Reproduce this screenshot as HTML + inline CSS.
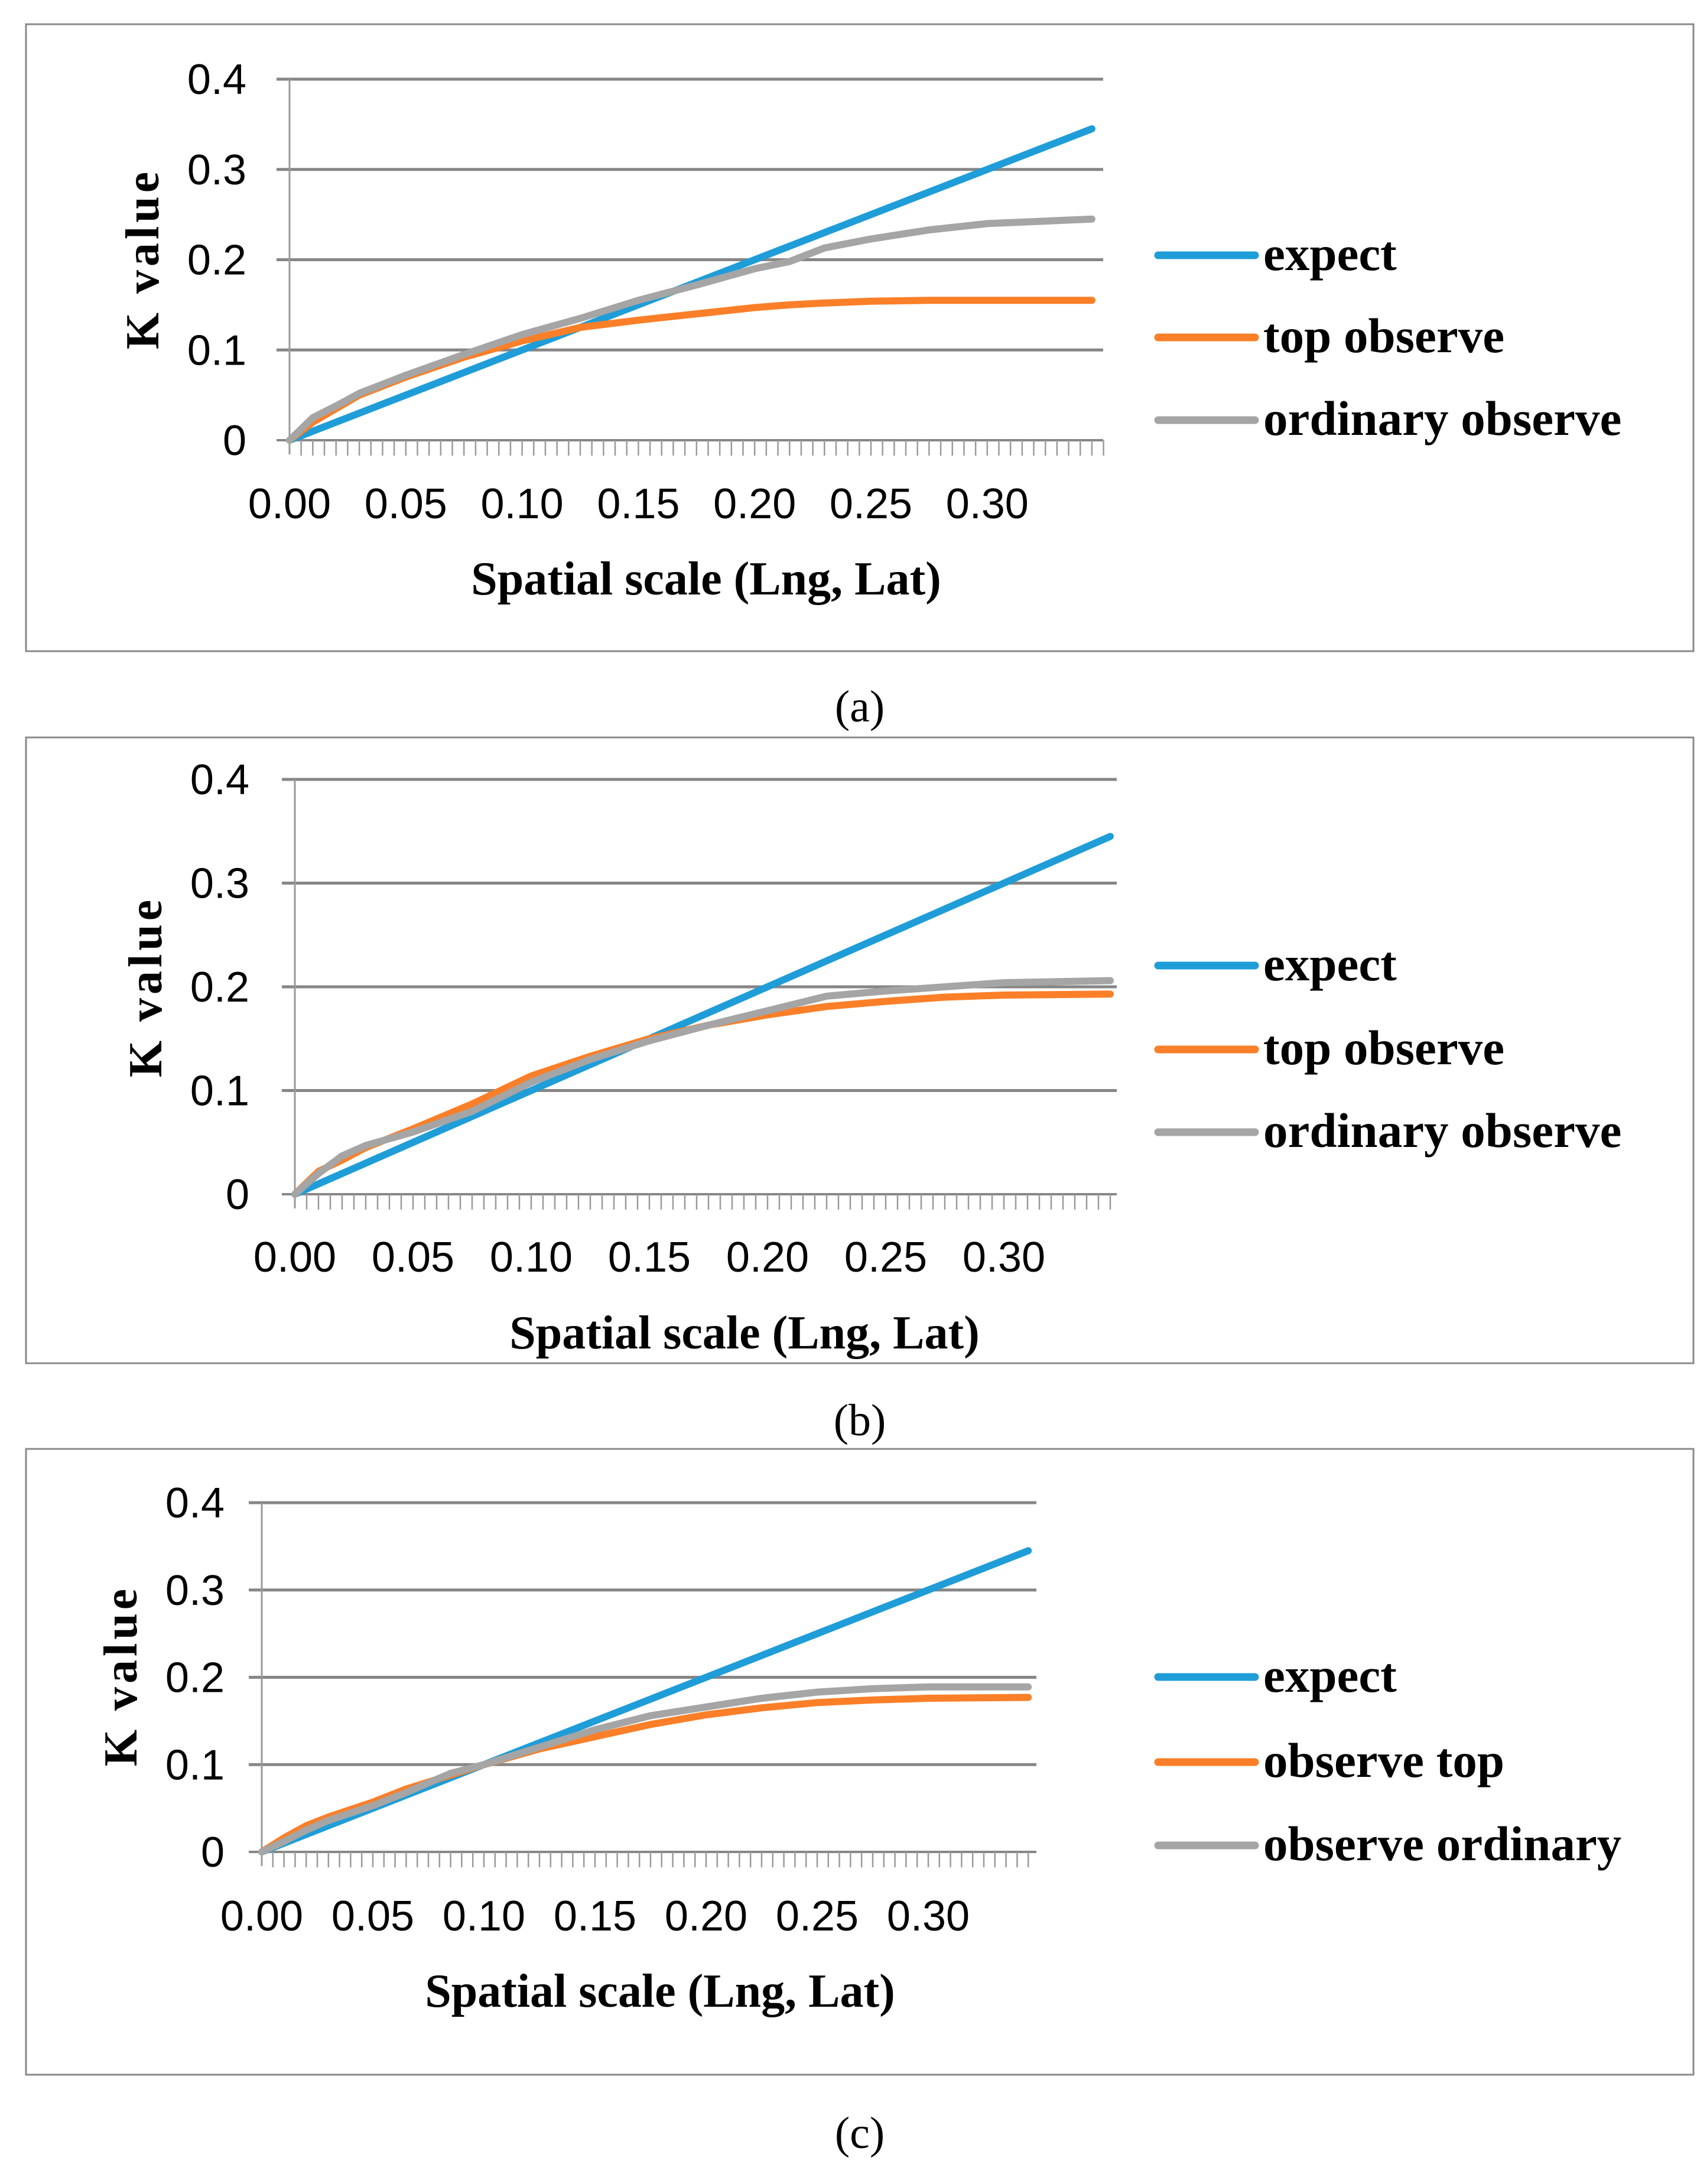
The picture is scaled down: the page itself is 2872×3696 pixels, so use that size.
<!DOCTYPE html>
<html><head><meta charset="utf-8"><style>
html,body{margin:0;padding:0;background:#fff;}
svg{display:block;}
text{font-family:"Liberation Sans",sans-serif;}
.serif{font-family:"Liberation Serif",serif;}
</style></head>
<body>
<svg id="fig" width="2872" height="3696" viewBox="0 0 2872 3696" xmlns="http://www.w3.org/2000/svg"></svg>
<script>
// ---- data ----
const yTicks = [0, 0.1, 0.2, 0.3, 0.4];
const yTickLabels = ["0", "0.1", "0.2", "0.3", "0.4"];
const xTicks = [0, 0.05, 0.10, 0.15, 0.20, 0.25, 0.30];
const xTickLabels = ["0.00", "0.05", "0.10", "0.15", "0.20", "0.25", "0.30"];
const expectX = [0, 0.345];
const expectY = [0, 0.345];
const xsA = [0,0.01,0.02,0.03,0.05,0.075,0.1,0.125,0.15,0.175,0.2,0.215,0.23,0.25,0.275,0.3,0.345];
const topA = [0,0.02,0.035,0.05,0.07,0.092,0.11,0.125,0.133,0.14,0.147,0.15,0.152,0.154,0.155,0.155,0.155];
const ordA = [0,0.025,0.038,0.052,0.072,0.095,0.117,0.135,0.155,0.172,0.19,0.198,0.213,0.223,0.233,0.24,0.245];
const xsB = [0,0.01,0.02,0.03,0.05,0.075,0.1,0.125,0.15,0.175,0.2,0.225,0.25,0.275,0.3,0.345];
const topB = [0,0.022,0.033,0.045,0.063,0.087,0.114,0.133,0.15,0.163,0.173,0.181,0.186,0.19,0.192,0.193];
const ordB = [0,0.02,0.037,0.047,0.06,0.08,0.108,0.13,0.148,0.163,0.177,0.191,0.196,0.2,0.204,0.206];
const xsC = [0,0.01,0.02,0.03,0.05,0.065,0.085,0.1,0.125,0.15,0.175,0.2,0.225,0.25,0.275,0.3,0.345];
const topC = [0,0.016,0.03,0.04,0.057,0.072,0.088,0.1,0.118,0.132,0.146,0.157,0.165,0.171,0.174,0.176,0.177];
const ordC = [0,0.012,0.025,0.036,0.053,0.068,0.09,0.1,0.12,0.14,0.156,0.166,0.176,0.183,0.187,0.189,0.189];

const NS = "http://www.w3.org/2000/svg";
const svg = document.getElementById('fig');
function mk(tag, attrs, parent){const e=document.createElementNS(NS,tag);for(const k in attrs)e.setAttribute(k,attrs[k]);(parent||svg).appendChild(e);return e;}

const panels = [
 {id:'a',frameTop:41,frameBot:1102,y0:745,y4:134,x0:490,x05:196.8,xEnd:1867,ylabX:417,xlabY:852,xtX:1195,xtY:979,ytX:241,ytY:438,leg:[432,571,711],capY:1194,
  xs:xsA,top:topA,ord:ordA,names:["expect","top observe","ordinary observe"]},
 {id:'b',frameTop:1248,frameBot:2307,y0:2021,y4:1319,x0:499,x05:200,xEnd:1890,ylabX:422,xlabY:2127,xtX:1260,xtY:2255,ytX:246,ytY:1670,leg:[1634,1776,1916],capY:2402,
  xs:xsB,top:topB,ord:ordB,names:["expect","top observe","ordinary observe"]},
 {id:'c',frameTop:2452,frameBot:3511,y0:3134,y4:2543,x0:443,x05:188,xEnd:1754,ylabX:380,xlabY:3242,xtX:1117,xtY:3369,ytX:204,ytY:2836,leg:[2838,2982,3123],capY:3608,
  xs:xsC,top:topC,ord:ordC,names:["expect","observe top","observe ordinary"]}
];
const colors=["#1f9dd8","#fb7f28","#a5a5a5"];

panels.forEach(p=>{
  const g=mk('g',{});
  
  
  const fr=mk('rect',{x:44,y:p.frameTop,width:2822,height:p.frameBot-p.frameTop,fill:'none',stroke:'#8a8a8a','stroke-width':3},g);
  
  
  const X=v=>p.x0+v/0.05*p.x05;
  const Y=v=>p.y0-(v/0.4)*(p.y0-p.y4);
  yTicks.forEach((t,i)=>{
    const l=mk('line',{x1:p.x0-22,x2:p.xEnd,y1:Y(t),y2:Y(t),stroke:'#868686','stroke-width':i==0?4:5},g);
    
    
    const tx=mk('text',{x:p.ylabX,y:Y(t)+25,'font-size':72,'text-anchor':'end',fill:'#000'},g);
    tx.textContent=yTickLabels[i];
    
    
  });
  const ya=mk('line',{x1:p.x0,x2:p.x0,y1:p.y4,y2:p.y0+24,stroke:'#9a9a9a','stroke-width':3},g);
  
  
  for(let v=0.005; X(v)<=p.xEnd+1; v+=0.005){
    const tk=mk('line',{x1:X(v),x2:X(v),y1:p.y0,y2:p.y0+26,stroke:'#9a9a9a','stroke-width':2.5},g);
    
    
  }
  xTicks.forEach((t,i)=>{
    const tx=mk('text',{x:X(t),y:p.xlabY+25,'font-size':72,'text-anchor':'middle',fill:'#000'},g);
    tx.textContent=xTickLabels[i];
    
    
  });
  const series=[[expectX,expectY],[p.xs,p.top],[p.xs,p.ord]];
  [0,1,2].forEach(si=>{
    const [xs,ys]=series[si];
    const d=xs.map((x,i)=>(i?'L':'M')+X(x).toFixed(1)+' '+Y(ys[i]).toFixed(1)).join(' ');
    const pa=mk('path',{d:d,fill:'none',stroke:colors[si],'stroke-width':12,'stroke-linejoin':'round','stroke-linecap':'round'},g);
    
    
  });
  const xt=mk('text',{x:p.xtX,y:p.xtY+27,'font-size':80,'font-weight':'bold','text-anchor':'middle',class:'serif',fill:'#000'},g);
  xt.textContent='Spatial scale (Lng, Lat)';
  
  
  const yt=mk('text',{x:0,y:0,'font-size':80,'font-weight':'bold','text-anchor':'middle',class:'serif',fill:'#000','letter-spacing':6,transform:`translate(${p.ytX+27},${p.ytY}) rotate(-90)`},g);
  yt.textContent='K value';
  
  
  p.leg.forEach((ly,i)=>{
    const ll=mk('line',{x1:1960,x2:2124,y1:ly,y2:ly,stroke:colors[i],'stroke-width':13,'stroke-linecap':'round'},g);
    
    
    const lt=mk('text',{x:2138,y:ly+25,'font-size':83,'font-weight':'bold',class:'serif',fill:'#000'},g);
    lt.textContent=p.names[i];
    
    
  });
  const cap=mk('text',{x:1455,y:p.capY+27,'font-size':76,'text-anchor':'middle',class:'serif',fill:'#000'},g);
  cap.textContent='('+p.id+')';
  
  
});
</script>
</body></html>
